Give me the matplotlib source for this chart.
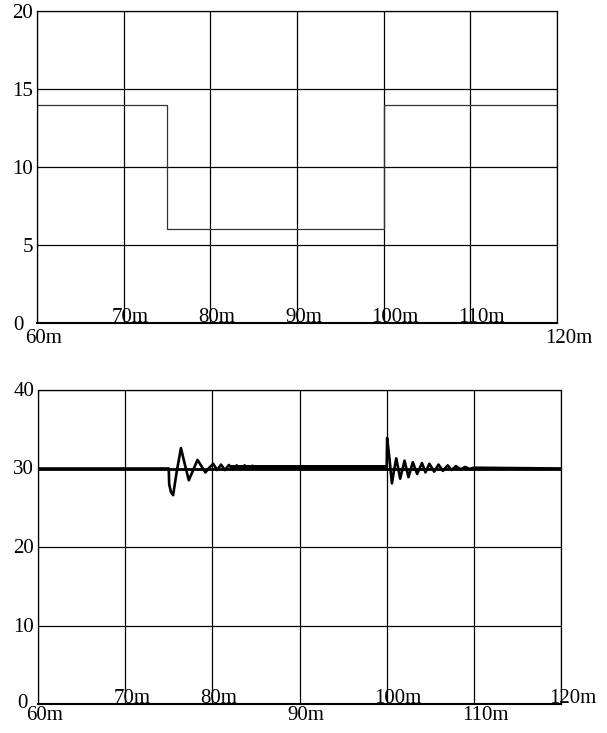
import matplotlib
matplotlib.use("Agg")
import matplotlib.pyplot as plt
from matplotlib import transforms

# top panel: reference step (ms -> value)
t_ref = [60, 75, 100, 120]
v_ref = [14, 6, 14, 14]

# bottom panel: response
t_resp = [60, 75.0, 75.05, 75.25, 75.5, 75.9, 76.4, 76.85, 77.3, 77.8, 78.3, 78.75, 79.2,
          79.65, 80.1, 80.55, 81.0, 81.45, 81.9, 82.35, 82.8, 83.25, 83.7, 84.15, 84.6,
          85.0, 100.0,
          100.05, 100.3, 100.6, 100.85, 101.1, 101.55, 102.05, 102.5, 103.0, 103.5,
          104.05, 104.45, 104.9, 105.45, 105.95, 106.45, 107.0, 107.45, 107.95, 108.5,
          109.0, 109.5, 110.0, 120.0]
v_resp = [30, 30, 28.0, 27.0, 26.6, 29.5, 32.6, 30.5, 28.5, 29.8, 31.1, 30.3, 29.5,
          30.1, 30.6, 29.8, 30.5, 29.8, 30.45, 29.85, 30.4, 29.9, 30.4, 29.9, 30.35,
          30.1, 30.1,
          33.9, 31.5, 28.1, 29.8, 31.3, 28.7, 31.0, 28.9, 30.8, 29.3,
          30.7, 29.5, 30.6, 29.6, 30.5, 29.7, 30.4, 29.8, 30.3, 29.9,
          30.2, 29.95, 30.1, 30.0]

# noisy band between the two transients
t_band = [82, 100]
v_band = [30.15, 30.15]

x_ticks = [60, 70, 80, 90, 100, 110, 120]
x_labels = ["60m", "70m", "80m", "90m", "100m", "110m", "120m"]
y_ticks_top = [0, 5, 10, 15, 20]
y_ticks_bot = [0, 10, 20, 30, 40]

# which x labels sit below the axis (True) or just inside it (False)
below_top = [True, False, False, False, False, False, True]
below_bot = [True, False, False, True, False, True, False]

plt.rcParams["font.family"] = ["Liberation Serif", "DejaVu Serif"]
FS = 15
DPI = 100

fig = plt.figure(figsize=(6.07, 7.33), dpi=DPI)
ax1 = fig.add_axes([37 / 607, 410 / 733, 520 / 607, 312 / 733])
ax2 = fig.add_axes([38 / 607, 29 / 733, 523 / 607, 314 / 733])


def px(fig, dx, dy):
    return transforms.ScaledTranslation(dx / DPI, -dy / DPI, fig.dpi_scale_trans)


def setup(ax, yticks, below, zero_dx, zero_dy, ylab_dy, below_dy):
    ax.set_xlim(60, 120)
    ax.set_ylim(yticks[0], yticks[-1])
    ax.set_xticks(x_ticks)
    ax.set_yticks(yticks)
    ax.set_xticklabels([])
    ax.set_yticklabels([])
    ax.tick_params(length=0)
    ax.grid(True, color="black", linewidth=0.9)
    for s in ax.spines.values():
        s.set_linewidth(0.9)
        s.set_color("black")
    ax.spines["bottom"].set_linewidth(1.5)
    ax.set_axisbelow(True)

    xt = transforms.blended_transform_factory(ax.transData, ax.transAxes)
    for x, lab, b in zip(x_ticks, x_labels, below):
        dy = below_dy if b else -1
        ax.text(x, 0, lab, fontsize=FS, ha="left", va="baseline",
                transform=xt + px(fig, -12, dy), clip_on=False)

    yt = transforms.blended_transform_factory(ax.transAxes, ax.transData)
    for y in yticks:
        if y == yticks[0]:
            ax.text(0, y, str(y), fontsize=FS, ha="right", va="baseline",
                    transform=yt + px(fig, zero_dx, zero_dy), clip_on=False)
        else:
            ax.text(0, y, str(y), fontsize=FS, ha="right", va="baseline",
                    transform=yt + px(fig, -4, ylab_dy), clip_on=False)


setup(ax1, y_ticks_top, below_top, -13, 7, 7, 20)
setup(ax2, y_ticks_bot, below_bot, -10, 4, 6, 16)

ax1.plot(t_ref, v_ref, drawstyle="steps-post", color="#333333", linewidth=0.9)
ax2.axhline(30, color="black", linewidth=2.0)
ax2.plot(t_band, v_band, color="black", linewidth=3.6, solid_capstyle="butt")
ax2.plot(t_resp, v_resp, color="black", linewidth=1.9)

fig.savefig("out.png", dpi=DPI)
